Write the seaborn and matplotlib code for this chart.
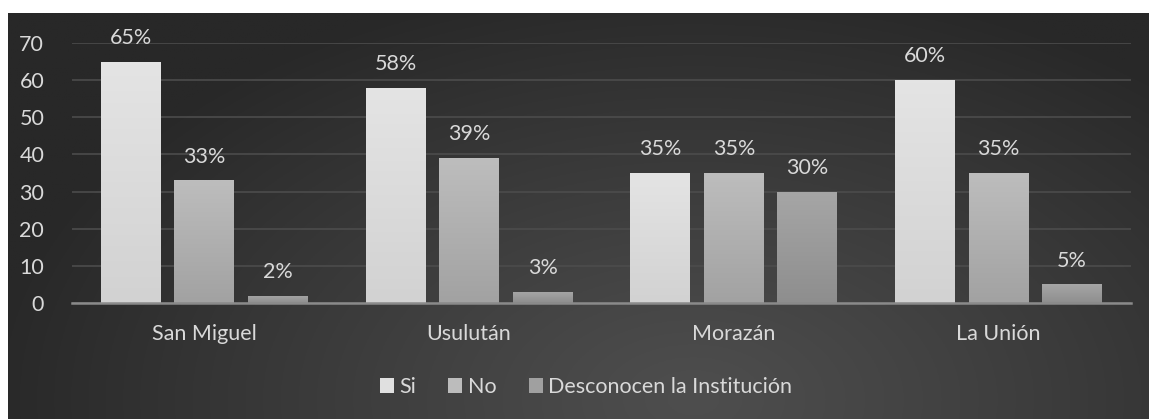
import numpy as np
import pandas as pd
import matplotlib
matplotlib.use("Agg")
import matplotlib.pyplot as plt
from matplotlib.patches import Patch
import seaborn as sns

categories = ["San Miguel", "Usulután", "Morazán", "La Unión"]
series_names = ["Si", "No", "Desconocen la Institución"]
si = [65, 58, 35, 60]
no = [33, 39, 35, 35]
desconocen = [2, 3, 30, 5]
y_ticks = [0, 10, 20, 30, 40, 50, 60, 70]

colors = ["#e0e0e0", "#bcbcbc", "#a0a0a0"]
grad_top = ["#e4e4e4", "#bdbdbd", "#a6a6a6"]
grad_bot = ["#d2d2d2", "#a2a2a2", "#8e8e8e"]
text_color = "#d9d9d9"

sns.set_theme(style="dark")
plt.rcParams["font.family"] = ["Lato", "DejaVu Sans"]

rows = []
for name, vals in zip(series_names, [si, no, desconocen]):
    for c, v in zip(categories, vals):
        rows.append({"cat": c, "serie": name, "val": v})
df = pd.DataFrame(rows)

W, H = 1149, 419
fig = plt.figure(figsize=(W / 100, H / 100), dpi=100)
fig.patch.set_facecolor("white")

# background panel with radial gradient
bg = fig.add_axes([8 / W, 0, (W - 8) / W, (H - 13) / H], zorder=-10)
ny, nx = 200, 560
yy, xx = np.mgrid[0:ny, 0:nx]
cx, cy = nx * 0.60, ny * 0.95
d = np.sqrt(((xx - cx) / nx) ** 2 * 1.0 + ((yy - cy) / ny) ** 2 * 0.35)
d = np.clip(d / 0.62, 0, 1)
c_in, c_out = 0x4e / 255, 0x28 / 255
img = c_in + (c_out - c_in) * d ** 1.1
bg.imshow(np.dstack([img, img, img]), aspect="auto", extent=[0, 1, 0, 1], origin="upper")
bg.set_axis_off()

ax = fig.add_axes([72 / W, 1 - 303 / H, (1131 - 72) / W, (303 - 43) / H])
ax.set_facecolor("none")

sns.barplot(data=df, x="cat", y="val", hue="serie", palette=colors,
            width=0.833, gap=0.184, legend=False, ax=ax, saturation=1,
            edgecolor="none", linewidth=0)

ax.set_ylim(0, 70)
ax.set_xlim(-0.5, 3.5)
ax.set_yticks(y_ticks)
ax.yaxis.grid(True, color="#4c4c4c", linewidth=1.2)
ax.xaxis.grid(False)
ax.set_axisbelow(True)
for s in ["top", "right", "left"]:
    ax.spines[s].set_visible(False)
ax.spines["bottom"].set_color("#8a8a8a")
ax.spines["bottom"].set_linewidth(1.8)
ax.set_xlabel("")
ax.set_ylabel("")
ax.tick_params(axis="y", colors=text_color, labelsize=15.5, length=0, pad=20)
ax.tick_params(axis="x", colors=text_color, labelsize=15.5, length=0, pad=15)

# gradient fill for bars + data labels
bars = [p for p in ax.patches]
for i, p in enumerate(bars):
    s_idx = i // len(categories)
    x0, w, h = p.get_x(), p.get_width(), p.get_height()
    top = np.array(matplotlib.colors.to_rgb(grad_top[s_idx]))
    bot = np.array(matplotlib.colors.to_rgb(grad_bot[s_idx]))
    t = np.linspace(0, 1, 64)[:, None]
    g = top[None, :] * (1 - t) + bot[None, :] * t
    im = ax.imshow(g[:, None, :], extent=[x0, x0 + w, 0, h], aspect="auto",
                   origin="upper", zorder=p.get_zorder() + 0.1)
    im.set_clip_path(p)
    ax.annotate(f"{int(h)}%", (x0 + w / 2, h), xytext=(0, 10),
                textcoords="offset points", ha="center", va="bottom",
                color=text_color, fontsize=15.5)
ax.set_xlim(-0.5, 3.5)
ax.set_ylim(0, 70)

handles = [Patch(facecolor=c, edgecolor="none", label=n) for c, n in zip(colors, series_names)]
leg = fig.legend(handles=handles, loc="center", bbox_to_anchor=(0.51, 1 - 387 / H),
                 ncol=3, frameon=False, fontsize=15.5, handlelength=0.65, handleheight=0.65,
                 handletextpad=0.25, columnspacing=1.5)
for t in leg.get_texts():
    t.set_color(text_color)

fig.savefig("out.png", dpi=100)
